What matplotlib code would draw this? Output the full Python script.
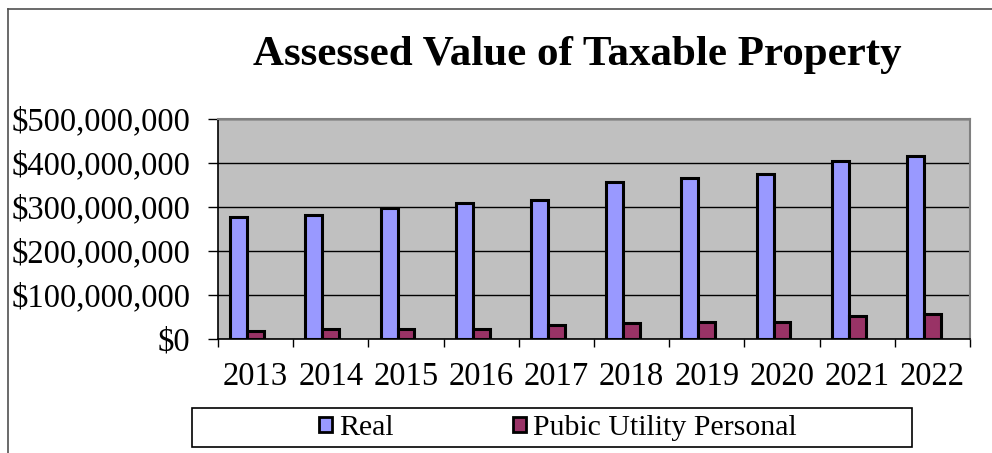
import matplotlib
matplotlib.use("Agg")
import matplotlib.pyplot as plt
from matplotlib.patches import Patch, Rectangle
from matplotlib.lines import Line2D
from matplotlib.ticker import FuncFormatter, MultipleLocator
import numpy as np

years = ["2013", "2014", "2015", "2016", "2017", "2018", "2019", "2020", "2021", "2022"]
real = [278e6, 281e6, 297e6, 308e6, 315e6, 356e6, 365e6, 376e6, 405e6, 416e6]
public_utility = [19e6, 23e6, 23e6, 23e6, 32e6, 36e6, 39e6, 39e6, 52e6, 56e6]
series_names = ["Real", "Pubic Utility Personal"]
title = "Assessed Value of Taxable Property"

plt.rcParams['font.family'] = ['Liberation Serif', 'DejaVu Serif']

W, H = 992, 453
fig = plt.figure(figsize=(W / 100, H / 100), dpi=100)

def fx(px):
    return px / W

def fy(py):
    return 1 - py / H

ax = fig.add_axes([fx(218), fy(339), fx(970) - fx(218), fy(119) - fy(339)])
ax.set_facecolor('#C0C0C0')

x = np.arange(len(years))
w = 0.225
ax.bar(x - w, real, width=w, align='center', color='#9999FF', edgecolor='black', linewidth=2.2, zorder=3)
ax.bar(x, public_utility, width=w, align='center', color='#993366', edgecolor='black', linewidth=2.2, zorder=3)

ax.set_xlim(-0.5, len(years) - 0.5)
ax.set_ylim(0, 500e6)
ax.yaxis.set_major_locator(MultipleLocator(100e6))
ax.yaxis.set_major_formatter(FuncFormatter(lambda v, p: "${:,.0f}".format(v)))
ax.grid(axis='y', color='black', linewidth=1.0, zorder=1)
ax.set_axisbelow(True)

ax.set_xticks(x)
ax.set_xticklabels(years, fontsize=23.5)
ax.set_xticks(np.arange(-0.5, len(years), 1.0), minor=True)
ax.tick_params(axis='x', which='major', length=0, pad=16)
ax.tick_params(axis='x', which='minor', length=6, width=1, color='black', direction='out')
ax.tick_params(axis='y', length=7, width=1, direction='out', labelsize=23.5, pad=13)

for s in ['top', 'right']:
    ax.spines[s].set_color('#808080')
    ax.spines[s].set_linewidth(1.5)
for s in ['left', 'bottom']:
    ax.spines[s].set_color('black')
    ax.spines[s].set_linewidth(1.2)

fig.text(fx(577), fy(65), title, ha='center', va='baseline', fontsize=31, fontweight='bold')

# outer chart border (cropped)
fig.add_artist(Line2D([fx(8), fx(8)], [fy(9), 0], color='#505050', linewidth=1.2, transform=fig.transFigure))
fig.add_artist(Line2D([fx(8), 1], [fy(9), fy(9)], color='#505050', linewidth=1.2, transform=fig.transFigure))

# legend box
fig.add_artist(Rectangle((fx(192), fy(447)), fx(912) - fx(192), fy(408) - fy(447),
                         transform=fig.transFigure, facecolor='white', edgecolor='black', linewidth=1.2))
handles = [Patch(facecolor='#9999FF', edgecolor='black', linewidth=2.0),
           Patch(facecolor='#993366', edgecolor='black', linewidth=2.0)]
fig.legend(handles, series_names, loc='center', bbox_to_anchor=(fx(558), fy(428)), ncol=2,
           frameon=False, fontsize=21.5, handlelength=0.42, handleheight=0.42,
           handletextpad=0.25, columnspacing=4.0, borderpad=0)

fig.savefig('out.png', dpi=100)
